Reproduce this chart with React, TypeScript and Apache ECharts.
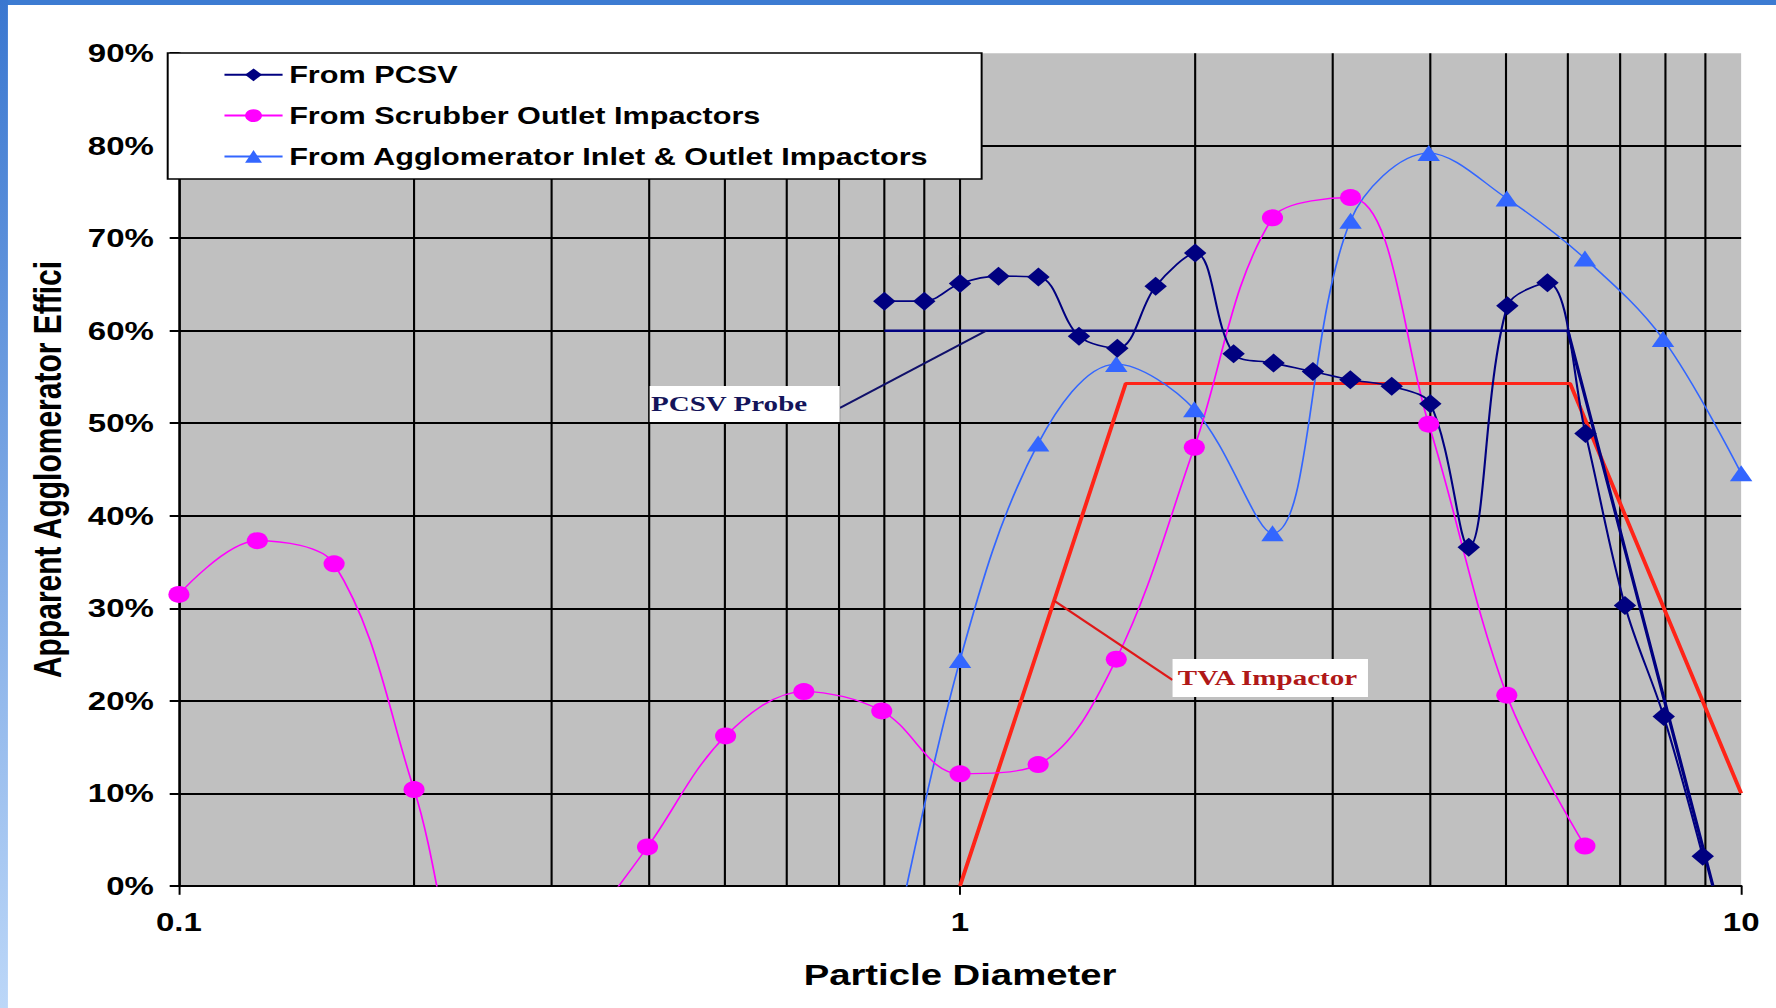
import React, { useEffect, useRef } from 'react';
import * as echarts from 'echarts';

const FONT = "'Liberation Sans', Arial, Helvetica, sans-serif";
const SERIF = "'Liberation Serif', 'Times New Roman', serif";

// The reference is a horizontally stretched picture: draw at a narrower width and stretch the page.
const PAGE_W = 1776;
const PAGE_H = 1008;
const STRETCH = 1.32;
const CHART_W = Math.round(PAGE_W / STRETCH);

// plot area and legend box (chart pixels, before the horizontal stretch)
const PLOT = { left: 135.5, right: 1318.6, top: 53.2, bottom: 885.8 };
const LEGEND_BOX = { x: 127, y: 53, w: 616, h: 126 };

// ---------- data ----------
const seriesNames = [
  'From PCSV',
  'From Scrubber Outlet Impactors',
  'From Agglomerator Inlet & Outlet Impactors',
];
const xTickLabels = ['0.1', '1', '10'];
const xMin = 0.1;
const xMax = 10;
const yMin = 0;
const yMax = 90;
const verticalGridX = [0.2, 0.3, 0.4, 0.5, 0.6, 0.7, 0.8, 0.9, 1, 2, 3, 4, 5, 6, 7, 8, 9];

const pcsvX = [0.8, 0.9, 1.0, 1.12, 1.26, 1.42, 1.59, 1.78, 2.0, 2.24, 2.52, 2.83, 3.16, 3.57, 4.0, 4.48, 5.02, 5.65, 6.32, 7.1, 7.96, 8.93];
const pcsvY = [63.2, 63.2, 65.1, 65.9, 65.8, 59.4, 58.1, 64.8, 68.4, 57.5, 56.5, 55.6, 54.7, 54.0, 52.1, 36.6, 62.7, 65.2, 48.9, 30.3, 18.3, 3.2];

const scrubX = [0.1, 0.126, 0.158, 0.2, 0.251, 0.316, 0.398, 0.501, 0.631, 0.794, 1.0, 1.259, 1.585, 1.995, 2.512, 3.162, 3.981, 5.012, 6.31];
const scrubY = [31.5, 37.3, 34.8, 10.4, -17, -7, 4.2, 16.2, 21.0, 18.9, 12.1, 13.1, 24.5, 47.4, 72.2, 74.4, 49.9, 20.6, 4.3];

const aggX = [0.794, 1.0, 1.259, 1.585, 1.995, 2.512, 3.162, 3.981, 5.012, 6.31, 7.943, 10];
const aggY = [-13, 24.4, 47.8, 56.4, 51.5, 38.1, 71.9, 79.2, 74.3, 67.8, 59.1, 44.6];

const probeX = [0.8, 6.0, 9.2];
const probeY = [60, 60, 0];

const tvaX = [1.0, 1.63, 6.04, 10];
const tvaY = [0, 54.3, 54.3, 10];

const probeLabelAnchor = [1.08, 60];
const tvaLabelAnchor = [1.32, 30.8];

const zip = (xs: number[], ys: number[]) => xs.map((x, i) => [x, ys[i]]);

// vertical grid lines stop at the bottom of the legend box where it covers the plot
const legendBottomY =
  yMax - ((LEGEND_BOX.y + LEGEND_BOX.h - PLOT.top) / (PLOT.bottom - PLOT.top)) * (yMax - yMin);
const legendRightX = Math.pow(
  10,
  Math.log10(xMin) +
    ((LEGEND_BOX.x + LEGEND_BOX.w - PLOT.left) / (PLOT.right - PLOT.left)) * (Math.log10(xMax) - Math.log10(xMin))
);
const gridData: any[] = [];
verticalGridX.forEach((x) => {
  const top = x <= legendRightX ? legendBottomY : yMax;
  gridData.push([x, yMin], [x, top], [x, '-']);
});

const fmtX = (v: number) => {
  const s = String(Number(v.toPrecision(6)));
  const idx = ['0.1', '1', '10'].indexOf(s);
  return idx >= 0 ? xTickLabels[idx] : '';
};

export default function App() {
  const ref = useRef<HTMLDivElement>(null);

  useEffect(() => {
    if (!ref.current) return;
    const chart = echarts.init(ref.current, null, { renderer: 'svg' });

    const option: any = {
      animation: false,
      backgroundColor: '#ffffff',
      textStyle: { fontFamily: FONT },
      grid: {
        left: PLOT.left,
        right: CHART_W - PLOT.right,
        top: PLOT.top,
        bottom: PAGE_H - PLOT.bottom,
        show: true,
        backgroundColor: '#c0c0c0',
        borderWidth: 0,
        containLabel: false,
      },
      legend: {
        z: 101,
        data: seriesNames,
        orient: 'vertical',
        left: LEGEND_BOX.x,
        top: LEGEND_BOX.y,
        padding: [6.8, 40, 7.6, 42],
        backgroundColor: '#ffffff',
        borderColor: '#000000',
        borderWidth: 1.5,
        borderRadius: 0,
        itemWidth: 44,
        itemHeight: 16,
        itemGap: 10.8,
        selectedMode: false,
        textStyle: { fontSize: 23.2, fontWeight: 'bold', color: '#000', fontFamily: FONT, lineHeight: 30 },
      },
      xAxis: {
        type: 'log',
        logBase: 10,
        min: xMin,
        max: xMax,
        name: 'Particle Diameter',
        nameLocation: 'middle',
        nameGap: 74,
        nameTextStyle: { fontSize: 29, fontWeight: 'bold', color: '#000', fontFamily: FONT },
        axisLine: { show: true, lineStyle: { color: '#000', width: 2 } },
        axisTick: { show: true, length: 9, lineStyle: { color: '#000', width: 1.5 } },
        axisLabel: { fontSize: 25, fontWeight: 'bold', color: '#000', margin: 24, formatter: fmtX },
        splitLine: { show: false },
        minorTick: { show: false },
        minorSplitLine: { show: false },
      },
      yAxis: {
        type: 'value',
        min: yMin,
        max: yMax,
        interval: 10,
        name: 'Apparent Agglomerator Effici',
        nameLocation: 'middle',
        nameRotate: 90,
        nameGap: 85,
        nameTextStyle: { fontSize: 30, fontWeight: 'bold', color: '#000', fontFamily: FONT },
        axisLine: { show: true, lineStyle: { color: '#000', width: 2 } },
        axisTick: { show: true, length: 7, lineStyle: { color: '#000', width: 2 } },
        axisLabel: { fontSize: 25, fontWeight: 'bold', color: '#000', margin: 19, formatter: '{value}%' },
        splitLine: { show: true, showMaxLine: false, lineStyle: { color: '#000', width: 2 } },
      },
      series: [
        {
          id: 'vgrid',
          name: 'vertical grid',
          type: 'line',
          data: gridData,
          connectNulls: false,
          silent: true,
          z: 1,
          showSymbol: false,
          symbol: 'none',
          lineStyle: { color: '#000', width: 1.6 },
          itemStyle: { color: '#000' },
          emphasis: { disabled: true },
        },
        {
          name: 'TVA Impactor',
          type: 'line',
          data: zip(tvaX, tvaY),
          showSymbol: false,
          symbol: 'none',
          lineStyle: { color: '#ff2418', width: 3 },
          itemStyle: { color: '#ff2418' },
          silent: true,
        },
        {
          name: 'PCSV Probe',
          type: 'line',
          data: zip(probeX, probeY),
          showSymbol: false,
          symbol: 'none',
          lineStyle: { color: '#000080', width: 2.5 },
          itemStyle: { color: '#000080' },
          silent: true,
        },
        {
          name: seriesNames[2],
          type: 'line',
          data: zip(aggX, aggY),
          smooth: 0.35,
          symbol: 'triangle',
          symbolSize: [17, 16],
          showAllSymbol: true,
          lineStyle: { color: '#3366ff', width: 1.3 },
          itemStyle: { color: '#3366ff' },
        },
        {
          name: seriesNames[1],
          type: 'line',
          data: zip(scrubX, scrubY),
          smooth: 0.35,
          symbol: 'circle',
          symbolSize: [16, 17],
          showAllSymbol: true,
          lineStyle: { color: '#ff00ff', width: 1.3 },
          itemStyle: { color: '#ff00ff' },
        },
        {
          name: seriesNames[0],
          type: 'line',
          data: zip(pcsvX, pcsvY),
          smooth: 0.35,
          symbol: 'diamond',
          symbolSize: [17, 19],
          showAllSymbol: true,
          lineStyle: { color: '#000080', width: 1.6 },
          itemStyle: { color: '#000080' },
        },
      ],
    };

    chart.setOption(option);

    const p1 = chart.convertToPixel({ gridIndex: 0 }, probeLabelAnchor) as number[];
    const p2 = chart.convertToPixel({ gridIndex: 0 }, tvaLabelAnchor) as number[];

    chart.setOption({
      graphic: {
        z: 100,
        elements: [
          {
            type: 'line',
            id: 'probeLeader',
            z: 100,
            z2: 1,
            silent: true,
            shape: { x1: 636, y1: 408, x2: p1[0], y2: p1[1] },
            style: { stroke: '#10106a', lineWidth: 2 },
          },
          {
            type: 'line',
            id: 'tvaLeader',
            z: 100,
            z2: 1,
            silent: true,
            shape: { x1: 888, y1: 680, x2: p2[0], y2: p2[1] },
            style: { stroke: '#e01818', lineWidth: 2 },
          },
          {
            type: 'rect',
            id: 'probeBox',
            z: 100,
            z2: 2,
            silent: true,
            shape: { x: 492, y: 386, width: 144, height: 36 },
            style: { fill: '#ffffff' },
          },
          {
            type: 'text',
            id: 'probeText',
            z: 100,
            z2: 3,
            silent: true,
            x: 493,
            y: 404,
            style: {
              text: 'PCSV Probe',
              fontSize: 22,
              fontWeight: 'bold',
              fontFamily: SERIF,
              fill: '#14145a',
              align: 'left',
              verticalAlign: 'middle',
            },
          },
          {
            type: 'rect',
            id: 'tvaBox',
            z: 100,
            z2: 2,
            silent: true,
            shape: { x: 888, y: 659, width: 148, height: 38 },
            style: { fill: '#ffffff' },
          },
          {
            type: 'text',
            id: 'tvaText',
            z: 100,
            z2: 3,
            silent: true,
            x: 892,
            y: 678,
            style: {
              text: 'TVA Impactor',
              fontSize: 22,
              fontWeight: 'bold',
              fontFamily: SERIF,
              fill: '#b01818',
              align: 'left',
              verticalAlign: 'middle',
            },
          },
          {
            type: 'rect',
            id: 'topBand',
            z: 100,
            z2: 5,
            silent: true,
            shape: { x: 0, y: 0, width: CHART_W, height: 5 },
            style: { fill: '#3c7bd2' },
          },
          {
            type: 'rect',
            id: 'leftBand',
            z: 100,
            z2: 5,
            silent: true,
            shape: { x: 0, y: 0, width: 6, height: PAGE_H },
            style: {
              fill: {
                type: 'linear',
                x: 0,
                y: 0,
                x2: 0,
                y2: 1,
                colorStops: [
                  { offset: 0, color: '#3a77d0' },
                  { offset: 1, color: '#bcd7f8' },
                ],
              },
            },
          },
        ],
      },
    });

    return () => chart.dispose();
  }, []);

  return (
    <div
      style={{
        position: 'fixed',
        left: 0,
        top: 0,
        width: PAGE_W,
        height: PAGE_H,
        overflow: 'hidden',
        background: '#ffffff',
      }}
    >
      <div
        ref={ref}
        style={{
          width: CHART_W,
          height: PAGE_H,
          transform: `scaleX(${PAGE_W / CHART_W})`,
          transformOrigin: '0 0',
        }}
      />
    </div>
  );
}
